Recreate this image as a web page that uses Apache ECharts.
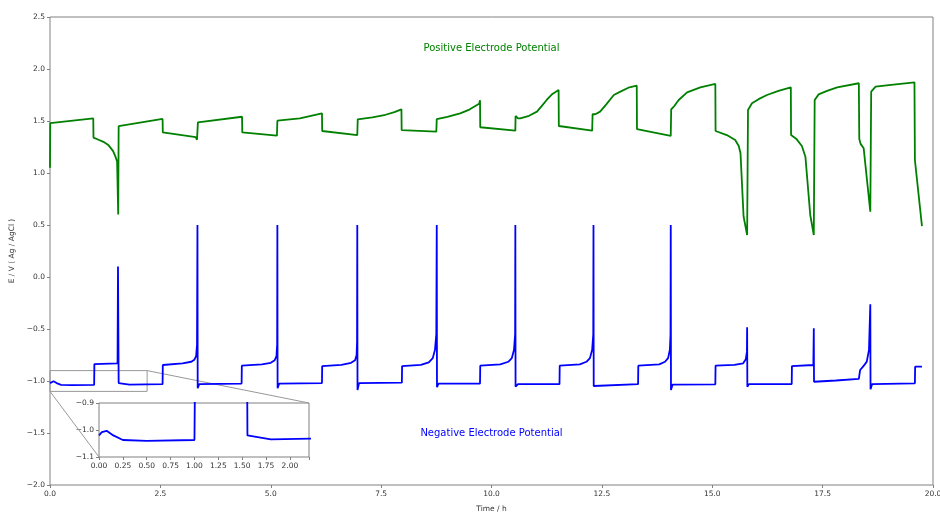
<!DOCTYPE html>
<html>
<head>
<meta charset="utf-8">
<title>Electrode potentials</title>
<script src="https://cdn.jsdelivr.net/npm/echarts@6/dist/echarts.min.js"></script>
<style>
  html, body { margin: 0; padding: 0; background: #fff; }
  #chart { width: 940px; height: 512px; }
</style>
</head>
<body>
<div id="chart"></div>
<script>
// Positive electrode potential vs Ag/AgCl, [time (h), E (V)]
const positivePotential = [
  [0, 1.05], [0.005, 1.48], [0.98, 1.525], [0.985, 1.34], [1.1, 1.32], [1.21, 1.30],
  [1.32, 1.27], [1.43, 1.21], [1.48, 1.16], [1.52, 1.11], [1.545, 0.60], [1.555, 1.45],
  [1.6, 1.46], [2.55, 1.52], [2.555, 1.39], [3.30, 1.345], [3.33, 1.32], [3.34, 1.305],
  [3.35, 1.487], [4.35, 1.541], [4.355, 1.39], [5.14, 1.359], [5.15, 1.503], [5.66, 1.526],
  [6.16, 1.574], [6.165, 1.404], [6.96, 1.365], [6.97, 1.516], [7.3, 1.535], [7.6, 1.56],
  [7.8, 1.585], [7.96, 1.612], [7.965, 1.413], [8.75, 1.397], [8.76, 1.519], [9.0, 1.54],
  [9.29, 1.574], [9.5, 1.61], [9.72, 1.665], [9.74, 1.70], [9.745, 1.44], [10.54, 1.407],
  [10.545, 1.548], [10.6, 1.525], [10.65, 1.526], [10.85, 1.55], [11.03, 1.59], [11.15, 1.65],
  [11.25, 1.702], [11.38, 1.76], [11.52, 1.798], [11.525, 1.452], [12.28, 1.407], [12.29, 1.567],
  [12.35, 1.565], [12.46, 1.59], [12.6, 1.66], [12.77, 1.75], [12.92, 1.782], [13.1, 1.82],
  [13.29, 1.84], [13.295, 1.423], [14.06, 1.356], [14.07, 1.612], [14.14, 1.644], [14.24, 1.702],
  [14.43, 1.776], [14.73, 1.824], [15.07, 1.856], [15.075, 1.404], [15.33, 1.365], [15.52, 1.317],
  [15.6, 1.26], [15.64, 1.19], [15.71, 0.58], [15.79, 0.404], [15.81, 1.606], [15.9, 1.67],
  [16.05, 1.71], [16.24, 1.75], [16.5, 1.79], [16.78, 1.824], [16.785, 1.365], [16.9, 1.33],
  [17.03, 1.26], [17.11, 1.157], [17.22, 0.596], [17.3, 0.404], [17.32, 1.702], [17.41, 1.756],
  [17.6, 1.79], [17.83, 1.824], [18.32, 1.863], [18.33, 1.33], [18.36, 1.28], [18.43, 1.237],
  [18.58, 0.628], [18.6, 1.782], [18.7, 1.83], [19.0, 1.845], [19.58, 1.872], [19.59, 1.125],
  [19.75, 0.49]
];

// Negative electrode potential vs Ag/AgCl, [time (h), E (V)]
const negativePotential = [
  [0, -1.02], [0.03, -1.008], [0.08, -1.003], [0.15, -1.02], [0.25, -1.037], [0.5, -1.04],
  [1.0, -1.037], [1.005, -0.837], [1.53, -0.83], [1.54, 0.10], [1.555, -1.02], [1.8, -1.035],
  [2.55, -1.03], [2.555, -0.846], [3.0, -0.83], [3.2, -0.815], [3.27, -0.795], [3.31, -0.76],
  [3.33, -0.65], [3.34, 0.5], [3.345, -1.07], [3.38, -1.03], [4.34, -1.025], [4.345, -0.853],
  [4.8, -0.84], [5.0, -0.825], [5.09, -0.80], [5.13, -0.76], [5.145, -0.65], [5.15, 0.5],
  [5.155, -1.07], [5.19, -1.025], [6.16, -1.02], [6.165, -0.856], [6.6, -0.845], [6.82, -0.825],
  [6.91, -0.80], [6.945, -0.75], [6.955, -0.62], [6.96, 0.5], [6.965, -1.087], [7.0, -1.02],
  [7.97, -1.016], [7.975, -0.856], [8.4, -0.845], [8.58, -0.82], [8.67, -0.78], [8.72, -0.70],
  [8.75, -0.55], [8.76, 0.5], [8.765, -1.06], [8.8, -1.025], [9.74, -1.025], [9.745, -0.853],
  [10.2, -0.84], [10.38, -0.815], [10.46, -0.78], [10.51, -0.70], [10.535, -0.55], [10.54, 0.5],
  [10.545, -1.055], [10.6, -1.03], [11.54, -1.03], [11.545, -0.853], [12.0, -0.84], [12.15, -0.815],
  [12.23, -0.78], [12.28, -0.70], [12.305, -0.55], [12.31, 0.5], [12.315, -1.048], [12.35, -1.03],
  [13.32, -1.03], [13.325, -0.853], [13.8, -0.84], [13.93, -0.815], [14.0, -0.78], [14.04, -0.70],
  [14.055, -0.55], [14.06, 0.5], [14.065, -1.087], [14.1, -1.035], [15.07, -1.032], [15.075, -0.853],
  [15.5, -0.845], [15.7, -0.83], [15.76, -0.79], [15.785, -0.72], [15.79, -0.484], [15.795, -1.055],
  [15.83, -1.03], [16.8, -1.029], [16.805, -0.856], [17.29, -0.846], [17.3, -0.493], [17.305, -1.007],
  [17.8, -0.995], [18.32, -0.98], [18.35, -0.894], [18.42, -0.86], [18.5, -0.814], [18.55, -0.7],
  [18.58, -0.262], [18.585, -1.08], [18.62, -1.03], [19.59, -1.022], [19.595, -0.862], [19.75, -0.862]
];

// Zoomed window shown in the inset: [t0, t1] x [E0, E1]
const zoomTime = [0, 2.2];
const zoomPotential = [-1.1, -0.9];

// Series captions and their anchor points (data coordinates)
const captions = ['Positive Electrode Potential', 'Negative Electrode Potential'];
const captionAnchors = [[10, 2.2], [10, -1.5]];

const FONT = 'DejaVu Sans';
const GREEN = '#008000';
const BLUE = '#0000ff';
const FRAME = '#808080';
const LABEL = '#333333';

const fmt = (digits, maxShown) => (v) =>
  (maxShown !== undefined && v > maxShown) ? '' : Number(v).toFixed(digits).replace('-', '\u2212');

function axisCommon(digits, size, maxShown) {
  return {
    type: 'value',
    axisLine: { show: false, onZero: false },
    axisTick: { show: true, length: 3, lineStyle: { color: FRAME, width: 1 } },
    axisLabel: { formatter: fmt(digits, maxShown), fontFamily: FONT, fontSize: size, color: LABEL, margin: 5 },
    splitLine: { show: false }
  };
}

const chart = echarts.init(document.getElementById('chart'), null, { renderer: 'canvas' });

chart.setOption({
  animation: false,
  backgroundColor: '#fff',
  grid: [
    { left: 50, top: 17, right: 7, bottom: 27, outerBoundsMode: 'none', containLabel: false,
      show: true, borderColor: FRAME, borderWidth: 1, backgroundColor: 'transparent' },
    { left: 99, top: 403, width: 210, height: 54, outerBoundsMode: 'none', containLabel: false,
      show: true, borderColor: FRAME, borderWidth: 1, backgroundColor: '#fff' }
  ],
  xAxis: [
    Object.assign(axisCommon(1, 7.5), {
      gridIndex: 0, min: 0, max: 20, interval: 2.5,
      name: 'Time / h', nameLocation: 'middle', nameGap: 20,
      nameTextStyle: { fontFamily: FONT, fontSize: 7.5, color: LABEL }
    }),
    Object.assign(axisCommon(2, 7.5, 2.1), {
      gridIndex: 1, min: zoomTime[0], max: zoomTime[1], interval: 0.25
    })
  ],
  yAxis: [
    Object.assign(axisCommon(1, 7.5), {
      gridIndex: 0, min: -2, max: 2.5, interval: 0.5,
      name: 'E / V ( Ag / AgCl )', nameLocation: 'middle', nameGap: 32,
      nameTextStyle: { fontFamily: FONT, fontSize: 7.5, color: LABEL }
    }),
    Object.assign(axisCommon(1, 7.5), {
      gridIndex: 1, min: zoomPotential[0], max: zoomPotential[1], interval: 0.1
    })
  ],
  series: [
    {
      name: 'positive', type: 'line', xAxisIndex: 0, yAxisIndex: 0,
      data: positivePotential, showSymbol: false, symbol: 'none', clip: true,
      lineStyle: { color: GREEN, width: 1.8 }, itemStyle: { color: GREEN }
    },
    {
      name: 'negative', type: 'line', xAxisIndex: 0, yAxisIndex: 0,
      data: negativePotential, showSymbol: false, symbol: 'none', clip: true,
      lineStyle: { color: BLUE, width: 1.8 }, itemStyle: { color: BLUE },
      markArea: {
        silent: true,
        itemStyle: { color: 'rgba(0,0,0,0)', borderColor: '#999', borderWidth: 1 },
        data: [[{ coord: [zoomTime[0], zoomPotential[1]] }, { coord: [zoomTime[1], zoomPotential[0]] }]]
      }
    },
    {
      name: 'negative-inset', type: 'line', xAxisIndex: 1, yAxisIndex: 1,
      data: negativePotential, showSymbol: false, symbol: 'none', clip: true,
      lineStyle: { color: BLUE, width: 1.8 }, itemStyle: { color: BLUE }
    }
  ]
});

// Connector lines from the zoom window to the inset, and the series captions
const winBL = chart.convertToPixel({ gridIndex: 0 }, [zoomTime[0], zoomPotential[0]]);
const winTR = chart.convertToPixel({ gridIndex: 0 }, [zoomTime[1], zoomPotential[1]]);
const insBL = chart.convertToPixel({ gridIndex: 1 }, [zoomTime[0], zoomPotential[0]]);
const insTR = chart.convertToPixel({ gridIndex: 1 }, [zoomTime[1], zoomPotential[1]]);
const colors = [GREEN, BLUE];

chart.setOption({
  graphic: [
    { type: 'line', silent: true, z: 1, shape: { x1: winBL[0], y1: winBL[1], x2: insBL[0], y2: insBL[1] }, style: { stroke: '#999', lineWidth: 1 } },
    { type: 'line', silent: true, z: 1, shape: { x1: winTR[0], y1: winTR[1], x2: insTR[0], y2: insTR[1] }, style: { stroke: '#999', lineWidth: 1 } }
  ].concat(captions.map((text, i) => {
    const p = chart.convertToPixel({ gridIndex: 0 }, captionAnchors[i]);
    return {
      type: 'text', silent: true, z: 10, x: p[0], y: p[1],
      style: { text: text, fill: colors[i], font: '10px "' + FONT + '"', textAlign: 'center', textVerticalAlign: 'middle' }
    };
  }))
});
</script>
</body>
</html>
